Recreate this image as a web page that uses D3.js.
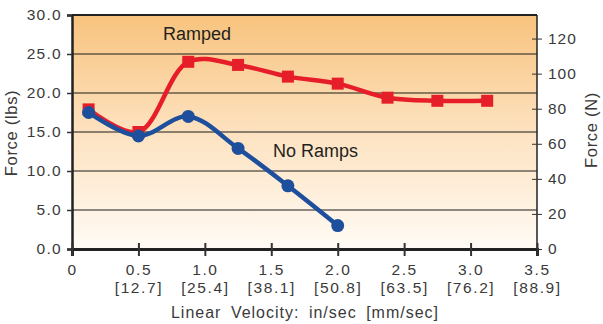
<!DOCTYPE html>
<html><head><meta charset="utf-8">
<script src="https://cdn.jsdelivr.net/npm/d3@7"></script>
<style>
html,body{margin:0;padding:0;background:#fff;}
svg text{font-family:"Liberation Sans",Arial,sans-serif;fill:#3a3a3a;}
</style></head>
<body>
<svg id="c" width="603" height="324"></svg>
<script>
const velocities = [0.125, 0.5, 0.875, 1.25, 1.625, 2.0, 2.375, 2.75, 3.125];
const rampedForce = [17.9, 15.0, 24.0, 23.6, 22.1, 21.2, 19.4, 19.0, 19.0];
const noRampVelocities = [0.125, 0.5, 0.875, 1.25, 1.625, 2.0];
const noRampForce = [17.5, 14.5, 17.0, 12.9, 8.1, 3.0];
const xTickValues = [0, 0.5, 1.0, 1.5, 2.0, 2.5, 3.0, 3.5];
const xTickLabels = ["0", "0.5", "1.0", "1.5", "2.0", "2.5", "3.0", "3.5"];
const xTickMetric = ["", "[12.7]", "[25.4]", "[38.1]", "[50.8]", "[63.5]", "[76.2]", "[88.9]"];
const yTickValues = [0, 5, 10, 15, 20, 25, 30];
const yRightTicks = [0, 20, 40, 60, 80, 100, 120];
const LBF_TO_N = 4.448;

const svg = d3.select("#c");
const L = 72, R = 537, T = 15, B = 249;
const x = d3.scaleLinear().domain([0, 3.5]).range([L, R]);
const y = d3.scaleLinear().domain([0, 30]).range([B, T]);
const yN = d3.scaleLinear().domain([0, 30 * LBF_TO_N]).range([B, T]);

const defs = svg.append("defs");
const g = defs.append("linearGradient").attr("id", "bg").attr("x1", 0).attr("y1", 0).attr("x2", 0).attr("y2", 1);
g.append("stop").attr("offset", "0%").attr("stop-color", "#f8c37d");
g.append("stop").attr("offset", "50%").attr("stop-color", "#fde2c0");
g.append("stop").attr("offset", "100%").attr("stop-color", "#fffbf5");

svg.append("rect").attr("x", L).attr("y", T).attr("width", R - L).attr("height", B - T).attr("fill", "url(#bg)");

// gridlines
svg.append("g").selectAll("line").data(yTickValues.filter(v => v > 0 && v < 30)).join("line")
  .attr("x1", L).attr("x2", R).attr("y1", d => y(d)).attr("y2", d => y(d))
  .attr("stroke", "#1a1a1a").attr("stroke-width", 1);

// borders
svg.append("line").attr("x1", L).attr("x2", R).attr("y1", T).attr("y2", T).attr("stroke", "#222").attr("stroke-width", 2);
svg.append("line").attr("x1", R).attr("x2", R).attr("y1", T).attr("y2", B).attr("stroke", "#222").attr("stroke-width", 1.5);

// left axis
const yAxis = d3.axisLeft(y).tickValues(yTickValues).tickFormat(d3.format(".1f")).tickSize(5).tickPadding(5);
const ga = svg.append("g").attr("transform", `translate(${L},0)`).call(yAxis);
ga.select(".domain").attr("stroke", "#222").attr("stroke-width", 2.5);
ga.selectAll(".tick line").attr("stroke", "#333").attr("stroke-width", 1.5);
ga.selectAll(".tick text").style("font-size", "15.5px").style("letter-spacing", "1.3px").attr("fill", "#3a3a3a");

// right axis
const yAxisR = d3.axisRight(yN).tickValues(yRightTicks).tickSize(5).tickPadding(6);
const gr = svg.append("g").attr("transform", `translate(${R},0)`).call(yAxisR);
gr.select(".domain").remove();
gr.selectAll(".tick line").attr("x1", -5).attr("stroke", "#333").attr("stroke-width", 1);
gr.selectAll(".tick text").style("font-size", "15.5px").style("letter-spacing", "1px").attr("fill", "#3a3a3a");

// bottom axis
const xAxis = d3.axisBottom(x).tickValues(xTickValues).tickFormat((d, i) => xTickLabels[i]).tickSize(7).tickPadding(8);
const gb = svg.append("g").attr("transform", `translate(0,${B})`).call(xAxis);
gb.select(".domain").attr("stroke", "#222").attr("stroke-width", 3);
gb.selectAll(".tick line").attr("y1", -6).attr("stroke", "#333").attr("stroke-width", 2);
gb.selectAll(".tick text").style("font-size", "15.5px").style("letter-spacing", "1.6px").attr("fill", "#3a3a3a");
gb.selectAll(".tick").append("text").attr("y", 44).attr("text-anchor", "middle")
  .style("font-size", "15.5px").style("letter-spacing", "1.6px").attr("fill", "#3a3a3a")
  .text((d, i) => xTickMetric[i]);

// axis titles
svg.append("text").attr("x", 305).attr("y", 318).attr("text-anchor", "middle")
  .style("font-size", "16px").style("letter-spacing", "1px").style("word-spacing", "4px")
  .text("Linear Velocity:  in/sec [mm/sec]");
svg.append("text").attr("transform", "translate(17,133) rotate(-90)").attr("text-anchor", "middle")
  .style("font-size", "16.5px").style("letter-spacing", "0.7px").text("Force (lbs)");
svg.append("text").attr("transform", "translate(597,130) rotate(-90)").attr("text-anchor", "middle")
  .style("font-size", "16.5px").style("letter-spacing", "0.7px").text("Force (N)");

// series
const line = d3.line().x(d => x(d[0])).y(d => y(d[1])).curve(d3.curveCatmullRom.alpha(0.5));
const ramped = velocities.map((v, i) => [v, rampedForce[i]]);
const noRamp = noRampVelocities.map((v, i) => [v, noRampForce[i]]);
const RED = "#e61e2a", BLUE = "#1d4f9c";

svg.append("path").datum(ramped).attr("d", line).attr("fill", "none").attr("stroke", RED).attr("stroke-width", 4.5);
svg.append("g").selectAll("rect").data(ramped).join("rect")
  .attr("x", d => x(d[0]) - 6).attr("y", d => y(d[1]) - 6).attr("width", 12).attr("height", 12).attr("fill", RED);

svg.append("path").datum(noRamp).attr("d", line).attr("fill", "none").attr("stroke", BLUE).attr("stroke-width", 4.5);
svg.append("g").selectAll("circle").data(noRamp).join("circle")
  .attr("cx", d => x(d[0])).attr("cy", d => y(d[1])).attr("r", 6.5).attr("fill", BLUE);

// series labels
svg.append("text").attr("x", 163).attr("y", 40).style("font-size", "18px").style("fill", "#231f20").text("Ramped");
svg.append("text").attr("x", 273).attr("y", 157).style("font-size", "18px").style("fill", "#231f20").text("No Ramps");
</script>
</body></html>
